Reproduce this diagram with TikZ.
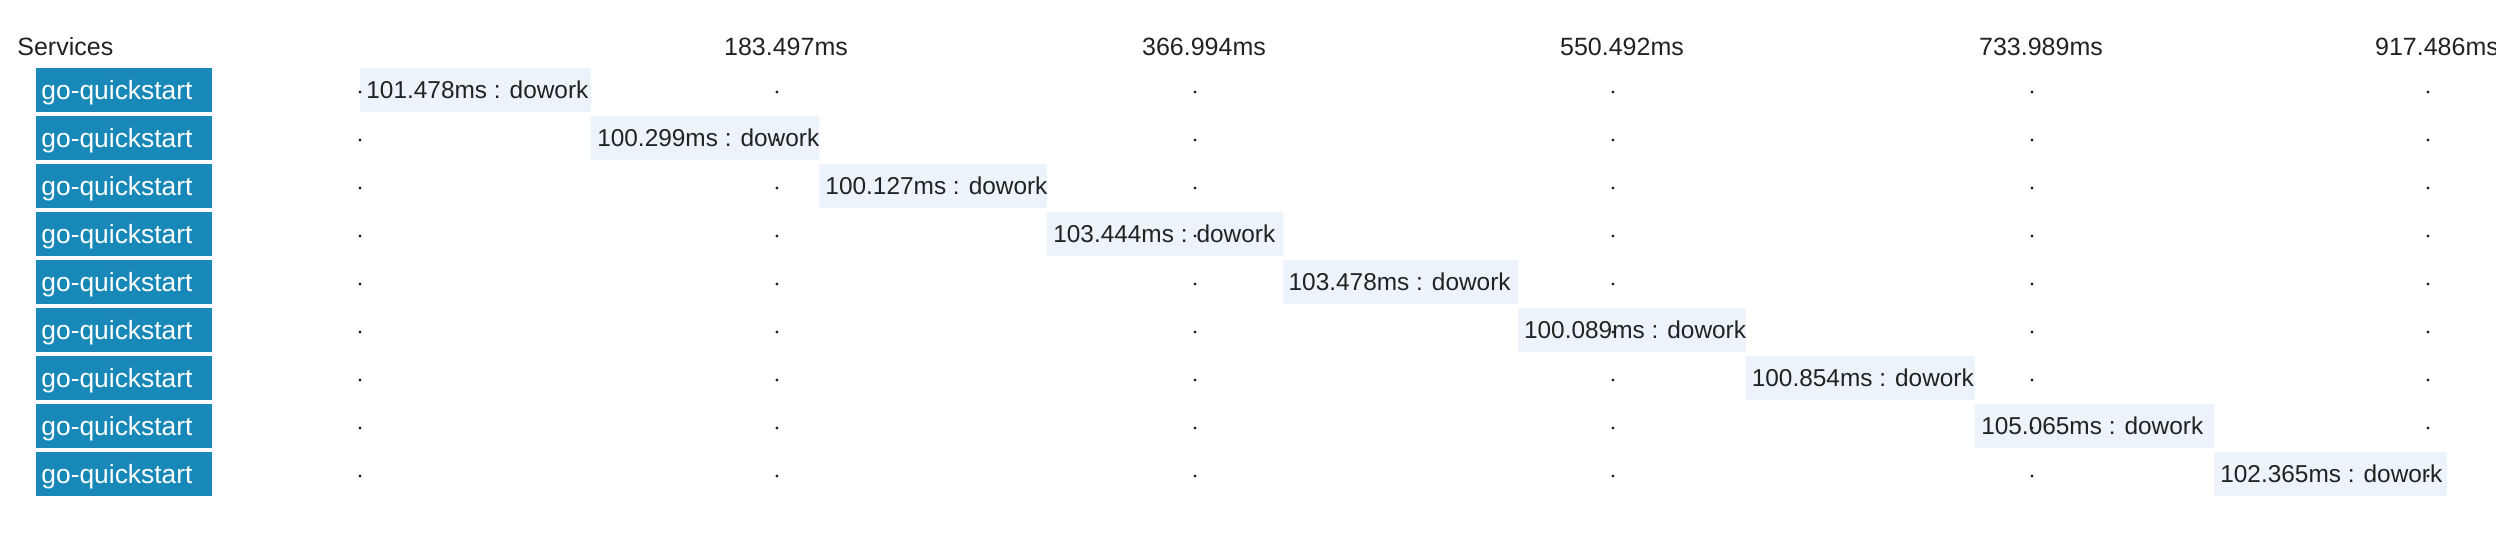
\documentclass[tikz,border=0pt]{standalone}
\usepackage{fontspec}
\setmainfont{Liberation Sans}
\usepackage{tikz}
\usetikzlibrary{positioning}
\definecolor{ServiceBlue}{HTML}{1788B8}
\definecolor{SpanBg}{HTML}{ECF3FA}
\definecolor{TextDark}{HTML}{222222}
\colorlet{TickGray}{TextDark}
\newcommand{\pxms}{1.1376pt}% width of 1ms
\newcommand{\xms}{2.2752}% px per ms on the axis

\begin{document}
\begin{tikzpicture}[
x=0.5pt, y=-0.5pt,
every node/.style={font=\fontsize{12.5}{15}\selectfont},
ServiceBox/.style={fill=ServiceBlue,text=white,anchor=west,minimum height=22pt,text width=83pt,text height=10.5pt,text depth=1.5pt,inner xsep=2.5pt,inner ysep=0pt,align=left,font=\fontsize{13.2}{15}\selectfont},
SpanBar/.style={fill=SpanBg,anchor=west,minimum height=22pt,inner sep=0pt},
SpanText/.style={text=TextDark,inner sep=0pt,font=\fontsize{12.2}{15}\selectfont},
HeadText/.style={text=TextDark,inner sep=0pt},
TickDot/.style={fill=TickGray}
]
\useasboundingbox (0,0) rectangle (2496,538);
\clip (0,0) rectangle (2496,538);

% header
\node[HeadText,anchor=west] (Services) at (17,47) {Services};
\node[HeadText] (T1) at (786,47) {183.497ms};
\node[HeadText] (T2) at (1204,47) {366.994ms};
\node[HeadText] (T3) at (1622,47) {550.492ms};
\node[HeadText] (T4) at (2041,47) {733.989ms};
\node[HeadText] (T5) at (2437,47) {917.486ms};

% services
\node[ServiceBox] (S1) at (36,90) {go-quickstart};
\node[ServiceBox] (S2) at (36,138) {go-quickstart};
\node[ServiceBox] (S3) at (36,186) {go-quickstart};
\node[ServiceBox] (S4) at (36,234) {go-quickstart};
\node[ServiceBox] (S5) at (36,282) {go-quickstart};
\node[ServiceBox] (S6) at (36,330) {go-quickstart};
\node[ServiceBox] (S7) at (36,378) {go-quickstart};
\node[ServiceBox] (S8) at (36,426) {go-quickstart};
\node[ServiceBox] (S9) at (36,474) {go-quickstart};

% spans, start = sum of the ones before
\node[SpanBar,minimum width=101.478*\pxms] (B1) at (360,90) {};
\node[SpanBar,minimum width=100.299*\pxms] (B2) at ({360+\xms*101.478},138) {};
\node[SpanBar,minimum width=100.127*\pxms] (B3) at ({360+\xms*201.777},186) {};
\node[SpanBar,minimum width=103.444*\pxms] (B4) at ({360+\xms*301.904},234) {};
\node[SpanBar,minimum width=103.478*\pxms] (B5) at ({360+\xms*405.348},282) {};
\node[SpanBar,minimum width=100.089*\pxms] (B6) at ({360+\xms*508.826},330) {};
\node[SpanBar,minimum width=100.854*\pxms] (B7) at ({360+\xms*608.915},378) {};
\node[SpanBar,minimum width=105.065*\pxms] (B8) at ({360+\xms*709.769},426) {};
\node[SpanBar,minimum width=102.365*\pxms] (B9) at ({360+\xms*814.834},474) {};

% tick dots
\foreach \y in {90,138,...,474}
  \foreach \x in {360,777,1195,1613,2032,2428}
    \fill[TickDot] (\x,\y+2) circle (0.8pt);

\node[SpanText,right=3pt of B1.west] (W1) {101.478ms : dowork};
\node[SpanText,right=3pt of B2.west] (W2) {100.299ms : dowork};
\node[SpanText,right=3pt of B3.west] (W3) {100.127ms : dowork};
\node[SpanText,right=3pt of B4.west] (W4) {103.444ms : dowork};
\node[SpanText,right=3pt of B5.west] (W5) {103.478ms : dowork};
\node[SpanText,right=3pt of B6.west] (W6) {100.089ms : dowork};
\node[SpanText,right=3pt of B7.west] (W7) {100.854ms : dowork};
\node[SpanText,right=3pt of B8.west] (W8) {105.065ms : dowork};
\node[SpanText,right=3pt of B9.west] (W9) {102.365ms : dowork};

\end{tikzpicture}
\end{document}
